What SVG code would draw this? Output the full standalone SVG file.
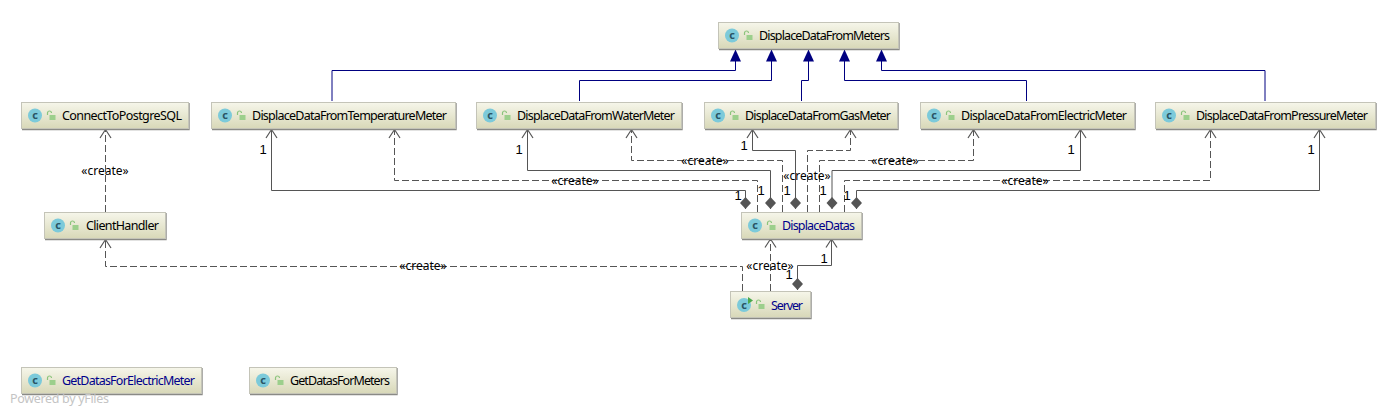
<svg xmlns="http://www.w3.org/2000/svg" xmlns:xlink="http://www.w3.org/1999/xlink" width="1395" height="415" viewBox="0 0 1395 415">
<style>
text{font-family:"Noto Sans","Liberation Sans",sans-serif;font-size:12.5px}
.box{fill:url(#nodeFill);stroke:#c4c4b8;stroke-width:1}
.shadow{fill:none;stroke:#8a8a86;stroke-width:1.4}
.name{fill:#000}
.blue{fill:#00008b}
.inh{fill:none;stroke:#000080;stroke-width:1;marker-end:url(#tri)}
.comp{fill:none;stroke:#555;stroke-width:1;marker-start:url(#dia);marker-end:url(#open)}
.dep{fill:none;stroke:#555;stroke-width:1;stroke-dasharray:7 3;marker-end:url(#open)}
.lbl{font-size:12px;fill:#000;text-anchor:middle}
.one{font-family:"Liberation Sans",sans-serif;font-size:13px;fill:#000;text-anchor:middle}
.ic{font-size:11px;font-weight:bold;fill:#2a5566;text-anchor:middle}
</style>
<defs>
<linearGradient id="nodeFill" x1="0" y1="0" x2="0" y2="1">
<stop offset="0" stop-color="#f6f6ea"/><stop offset="1" stop-color="#d8d8b8"/>
</linearGradient>
<marker id="tri" markerUnits="userSpaceOnUse" markerWidth="14" markerHeight="14" refX="12" refY="6" orient="auto"><path d="M0 0.500L12 6L0 11.500Z" fill="#000080"/></marker>
<marker id="open" markerUnits="userSpaceOnUse" markerWidth="12" markerHeight="14" refX="9.500" refY="6.500" orient="auto"><path d="M1 1L9.500 6.500L1 12" fill="none" stroke="#555" stroke-width="1.200"/></marker>
<marker id="dia" markerUnits="userSpaceOnUse" markerWidth="14" markerHeight="14" refX="0" refY="6" orient="auto"><path d="M0 6L6 0.500L12 6L6 11.500Z" fill="#555"/></marker>
<g id="lock"><path d="M-3.500 -1V-3a2 2 0 0 1 4 0" fill="none" stroke="#8cc47c" stroke-width="1.200"/><rect x="-1.500" y="-1" width="6" height="5" fill="#9ccf8c"/></g>
</defs>

<g id="connectors">
<path class="inh" d="M332 101V70.500H735.500V49.500"/>
<path class="inh" d="M579.500 101V80.500H771.500V49.500"/>
<path class="inh" d="M801.500 101V80.500H808.500V49.500"/>
<path class="inh" d="M1026.500 101V80.500H844.500V49.500"/>
<path class="inh" d="M1265 101V70.500H881.500V49.500"/>
<path class="comp" d="M745.500 209V190.500H271.500V129.500"/>
<path class="comp" d="M770.500 209V170.500H527.500V129.500"/>
<path class="comp" d="M795.500 209V150.500H752.500V129.500"/>
<path class="comp" d="M832 209V170.500H1080.500V129.500"/>
<path class="comp" d="M856.500 209V190.500H1319.500V129.500"/>
<path class="comp" d="M797.500 290V265.500H831.500V239"/>
<path class="dep" d="M757.500 212V180.500H394.500V129.500"/>
<path class="dep" d="M782.500 212V160.500H631.500V129.500"/>
<path class="dep" d="M807.500 212V150.500H850.500V129.500"/>
<path class="dep" d="M819.500 212V160.500H973.500V129.500"/>
<path class="dep" d="M844.500 212V180.500H1210.500V129.500"/>
<path class="dep" d="M105.500 212V129.500"/>
<path class="dep" d="M742.500 291V266.500H105.500V239.500"/>
<path class="dep" d="M770.500 291V239"/>
<text class="lbl" x="105" y="175">«create»</text>
<text class="lbl" x="575" y="185">«create»</text>
<text class="lbl" x="705" y="165">«create»</text>
<text class="lbl" x="807" y="180">«create»</text>
<text class="lbl" x="895" y="165">«create»</text>
<text class="lbl" x="1025" y="185">«create»</text>
<text class="lbl" x="423" y="270">«create»</text>
<text class="lbl" x="770" y="270">«create»</text>
<text class="one" x="263" y="154">1</text>
<text class="one" x="519" y="154">1</text>
<text class="one" x="744" y="150">1</text>
<text class="one" x="1071" y="154">1</text>
<text class="one" x="1311" y="154">1</text>
<text class="one" x="738" y="200">1</text>
<text class="one" x="761" y="195">1</text>
<text class="one" x="787" y="195">1</text>
<text class="one" x="823" y="195">1</text>
<text class="one" x="847" y="200">1</text>
<text class="one" x="824" y="263">1</text>
<text class="one" x="789" y="279">1</text>
</g>

<g id="n-meters"><path class="shadow" d="M899 23V49.500H719"/><rect class="box" x="718.500" y="22.500" width="180" height="26"/><circle cx="732" cy="35.500" r="7" fill="#7ccada"/><text class="ic" x="732" y="39">c</text><use href="#lock" x="748" y="36"/><text class="name" x="759" y="40" textLength="131">DisplaceDataFromMeters</text></g>
<g id="n-postgres"><path class="shadow" d="M189 103V129.500H22"/><rect class="box" x="21.500" y="102.500" width="167" height="26"/><circle cx="35" cy="115.500" r="7" fill="#7ccada"/><text class="ic" x="35" y="119">c</text><use href="#lock" x="51" y="116"/><text class="name" x="62" y="120" textLength="120">ConnectToPostgreSQL</text></g>
<g id="n-temp"><path class="shadow" d="M456 103V129.500H212"/><rect class="box" x="211.500" y="102.500" width="244" height="26"/><circle cx="225" cy="115.500" r="7" fill="#7ccada"/><text class="ic" x="225" y="119">c</text><use href="#lock" x="241" y="116"/><text class="name" x="252" y="120" textLength="195">DisplaceDataFromTemperatureMeter</text></g>
<g id="n-water"><path class="shadow" d="M682 103V129.500H477"/><rect class="box" x="476.500" y="102.500" width="205" height="26"/><circle cx="490" cy="115.500" r="7" fill="#7ccada"/><text class="ic" x="490" y="119">c</text><use href="#lock" x="506" y="116"/><text class="name" x="517" y="120" textLength="158">DisplaceDataFromWaterMeter</text></g>
<g id="n-gas"><path class="shadow" d="M898 103V129.500H705"/><rect class="box" x="704.500" y="102.500" width="193" height="26"/><circle cx="718" cy="115.500" r="7" fill="#7ccada"/><text class="ic" x="718" y="119">c</text><use href="#lock" x="734" y="116"/><text class="name" x="745" y="120" textLength="146">DisplaceDataFromGasMeter</text></g>
<g id="n-electric"><path class="shadow" d="M1135 103V129.500H921"/><rect class="box" x="920.500" y="102.500" width="214" height="26"/><circle cx="934" cy="115.500" r="7" fill="#7ccada"/><text class="ic" x="934" y="119">c</text><use href="#lock" x="950" y="116"/><text class="name" x="961" y="120" textLength="166">DisplaceDataFromElectricMeter</text></g>
<g id="n-pressure"><path class="shadow" d="M1376 103V129.500H1156"/><rect class="box" x="1155.500" y="102.500" width="220" height="26"/><circle cx="1169" cy="115.500" r="7" fill="#7ccada"/><text class="ic" x="1169" y="119">c</text><use href="#lock" x="1185" y="116"/><text class="name" x="1196" y="120" textLength="172">DisplaceDataFromPressureMeter</text></g>
<g id="n-client"><path class="shadow" d="M166 213V239.500H45"/><rect class="box" x="44.500" y="212.500" width="121" height="26"/><circle cx="58" cy="225.500" r="7" fill="#7ccada"/><text class="ic" x="58" y="229">c</text><use href="#lock" x="74" y="226"/><text class="name" x="86" y="230" textLength="73">ClientHandler</text></g>
<g id="n-datas"><path class="shadow" d="M862 213V239.500H742"/><rect class="box" x="741.500" y="212.500" width="120" height="26"/><circle cx="755" cy="225.500" r="7" fill="#7ccada"/><text class="ic" x="755" y="229">c</text><use href="#lock" x="771" y="226"/><text class="name blue" x="782" y="230" textLength="73">DisplaceDatas</text></g>
<g id="n-server"><path class="shadow" d="M811 292V318.500H731"/><rect class="box" x="730.500" y="291.500" width="80" height="26"/><circle cx="744" cy="305" r="7" fill="#7ccada"/><text class="ic" x="744" y="308.500">c</text><path d="M748 297L753 300.500L748 304Z" fill="#4aa84a"/><use href="#lock" x="760" y="305"/><text class="name blue" x="771" y="310" textLength="32">Server</text></g>
<g id="n-getelectric"><path class="shadow" d="M202 368V394.500H22"/><rect class="box" x="21.500" y="367.500" width="180" height="26"/><circle cx="35" cy="380.500" r="7" fill="#7ccada"/><text class="ic" x="35" y="384">c</text><use href="#lock" x="51" y="381"/><text class="name blue" x="62" y="385" textLength="133">GetDatasForElectricMeter</text></g>
<g id="n-getmeters"><path class="shadow" d="M397 368V394.500H250"/><rect class="box" x="249.500" y="367.500" width="147" height="26"/><circle cx="263" cy="380.500" r="7" fill="#7ccada"/><text class="ic" x="263" y="384">c</text><use href="#lock" x="279" y="381"/><text class="name" x="290" y="385" textLength="100">GetDatasForMeters</text></g>
<text x="10" y="403" fill="#c4c4c4" font-size="12" textLength="99">Powered by yFiles</text>
</svg>
